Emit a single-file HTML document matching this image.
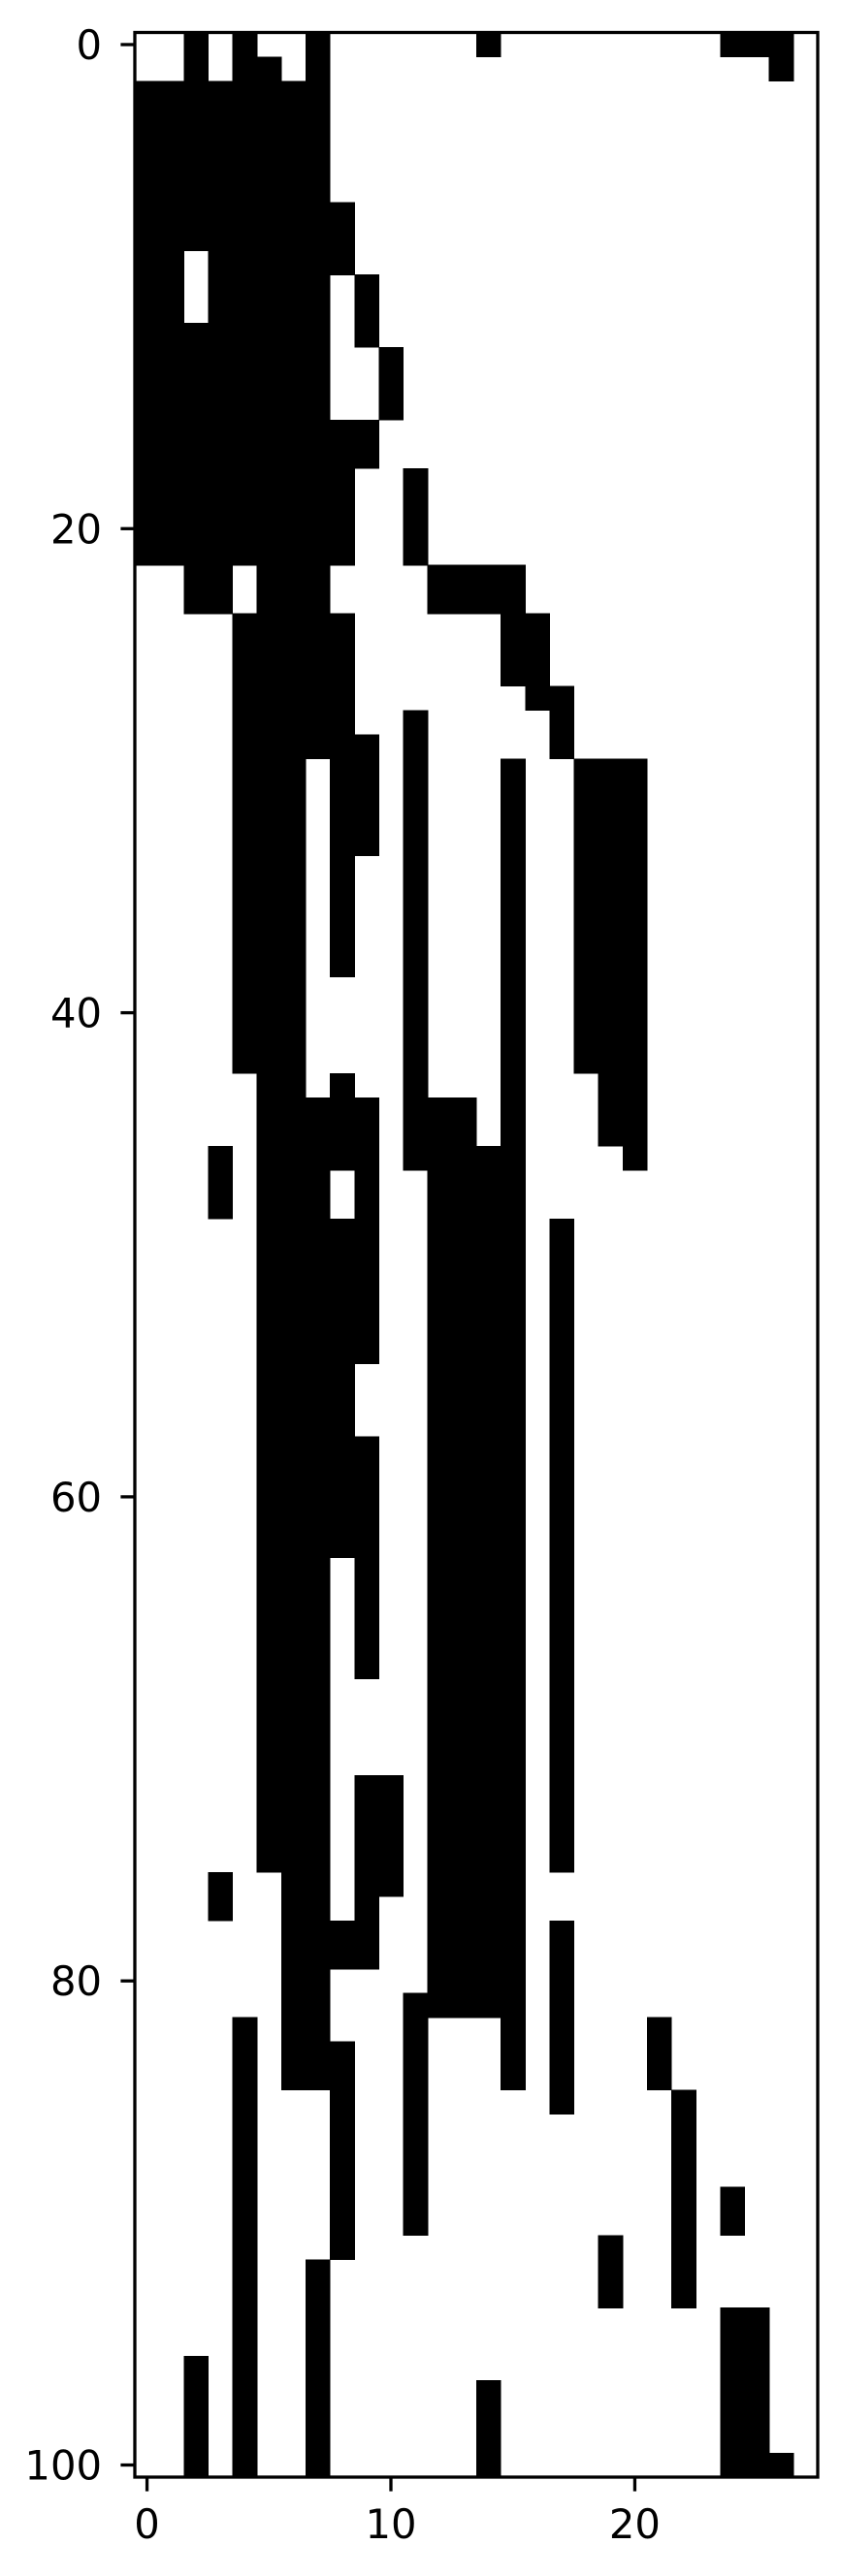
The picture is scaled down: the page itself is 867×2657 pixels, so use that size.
<!DOCTYPE html>
<html>
<head>
<meta charset="utf-8">
<style>
  html,body{margin:0;padding:0;background:#fff;}
  svg{display:block;}
  text{font-family:"DejaVu Sans","Liberation Sans",sans-serif;font-size:41.7px;fill:#000;}
</style>
</head>
<body>
<svg id="chart" width="867" height="2657" viewBox="0 0 867 2657" xmlns="http://www.w3.org/2000/svg">
  <rect x="0" y="0" width="867" height="2657" fill="#fff"/>
  <g id="cells" shape-rendering="crispEdges"></g>
  <g id="axes"></g>
</svg>
<script>
// ---- data: black cells per row (column indices with value 1) ----
const nCols = 28;
const nRows = 101;
function R(a,b){const o=[];for(let i=a;i<=b;i++)o.push(i);return o;}
const rowSpans = [
  [0,0,[2,4,7,14,24,25,26]],
  [1,1,[2,4,5,7,26]],
  [2,6,R(0,7)],
  [7,8,R(0,8)],
  [9,9,[0,1,3,4,5,6,7,8]],
  [10,11,[0,1,3,4,5,6,7,9]],
  [12,12,[...R(0,7),9]],
  [13,15,[...R(0,7),10]],
  [16,17,R(0,9)],
  [18,21,[...R(0,8),11]],
  [22,23,[2,3,5,6,7,12,13,14,15]],
  [24,26,[4,5,6,7,8,15,16]],
  [27,27,[4,5,6,7,8,16,17]],
  [28,28,[4,5,6,7,8,11,17]],
  [29,29,[4,5,6,7,8,9,11,17]],
  [30,33,[4,5,6,8,9,11,15,18,19,20]],
  [34,38,[4,5,6,8,11,15,18,19,20]],
  [39,42,[4,5,6,11,15,18,19,20]],
  [43,43,[5,6,8,11,15,19,20]],
  [44,45,[5,6,7,8,9,11,12,13,15,19,20]],
  [46,46,[3,5,6,7,8,9,11,12,13,14,15,20]],
  [47,48,[3,5,6,7,9,12,13,14,15]],
  [49,54,[5,6,7,8,9,12,13,14,15,17]],
  [55,57,[5,6,7,8,12,13,14,15,17]],
  [58,62,[5,6,7,8,9,12,13,14,15,17]],
  [63,67,[5,6,7,9,12,13,14,15,17]],
  [68,71,[5,6,7,12,13,14,15,17]],
  [72,75,[5,6,7,9,10,12,13,14,15,17]],
  [76,76,[3,6,7,9,10,12,13,14,15]],
  [77,77,[3,6,7,9,12,13,14,15]],
  [78,79,[6,7,8,9,12,13,14,15,17]],
  [80,80,[6,7,12,13,14,15,17]],
  [81,81,[6,7,11,12,13,14,15,17]],
  [82,82,[4,6,7,11,15,17,21]],
  [83,84,[4,6,7,8,11,15,17,21]],
  [85,85,[4,8,11,17,22]],
  [86,88,[4,8,11,22]],
  [89,90,[4,8,11,22,24]],
  [91,91,[4,8,19,22]],
  [92,93,[4,7,19,22]],
  [94,95,[4,7,24,25]],
  [96,96,[2,4,7,24,25]],
  [97,99,[2,4,7,14,24,25]],
  [100,100,[2,4,7,14,24,25,26]]
];
const xTicks = [0,10,20];
const yTicks = [0,20,40,60,80,100];

// ---- layout ----
const X0 = 139, X1 = 843, Y0 = 33.5, Y1 = 2555;
const cw = (X1 - X0) / nCols, rh = (Y1 - Y0) / nRows;
function xs(c){ return X0 + (c + 0.5) * cw; }
function ys(r){ return Y0 + (r + 0.5) * rh; }
const NS = "http://www.w3.org/2000/svg";
const cellsG = document.getElementById('cells');
const axesG = document.getElementById('axes');

rowSpans.forEach(([a,b,cols]) => {
  for (let r = a; r <= b; r++) {
    cols.forEach(c => {
      const el = document.createElementNS(NS,'rect');
      
      
      const x = xs(c) - cw/2, y = ys(r) - rh/2;
      el.setAttribute('x', x.toFixed(2));
      el.setAttribute('y', y.toFixed(2));
      el.setAttribute('width', (cw + 0.6).toFixed(2));
      el.setAttribute('height', (rh + 0.6).toFixed(2));
      el.setAttribute('fill', '#000');
      cellsG.appendChild(el);
    });
  }
});

// frame
const frame = document.createElementNS(NS,'rect');


frame.setAttribute('x', X0); frame.setAttribute('y', Y0);
frame.setAttribute('width', X1 - X0); frame.setAttribute('height', Y1 - Y0);
frame.setAttribute('fill', 'none'); frame.setAttribute('stroke', '#000'); frame.setAttribute('stroke-width', '3.3');
axesG.appendChild(frame);

const TL = 14.6;
xTicks.forEach(v => {
  const t = document.createElementNS(NS,'line');
  
  
  t.setAttribute('x1', xs(v)); t.setAttribute('x2', xs(v));
  t.setAttribute('y1', Y1); t.setAttribute('y2', Y1 + TL);
  t.setAttribute('stroke', '#000'); t.setAttribute('stroke-width', '3.3');
  axesG.appendChild(t);
  const l = document.createElementNS(NS,'text');
  
  
  l.setAttribute('x', xs(v)); l.setAttribute('y', 2618);
  l.setAttribute('text-anchor', 'middle');
  l.textContent = String(v);
  axesG.appendChild(l);
});
yTicks.forEach(v => {
  const t = document.createElementNS(NS,'line');
  
  
  t.setAttribute('x1', X0 - TL); t.setAttribute('x2', X0);
  t.setAttribute('y1', ys(v)); t.setAttribute('y2', ys(v));
  t.setAttribute('stroke', '#000'); t.setAttribute('stroke-width', '3.3');
  axesG.appendChild(t);
  const l = document.createElementNS(NS,'text');
  
  
  l.setAttribute('x', 105); l.setAttribute('y', ys(v) + 15);
  l.setAttribute('text-anchor', 'end');
  l.textContent = String(v);
  axesG.appendChild(l);
});
</script>
</body>
</html>
